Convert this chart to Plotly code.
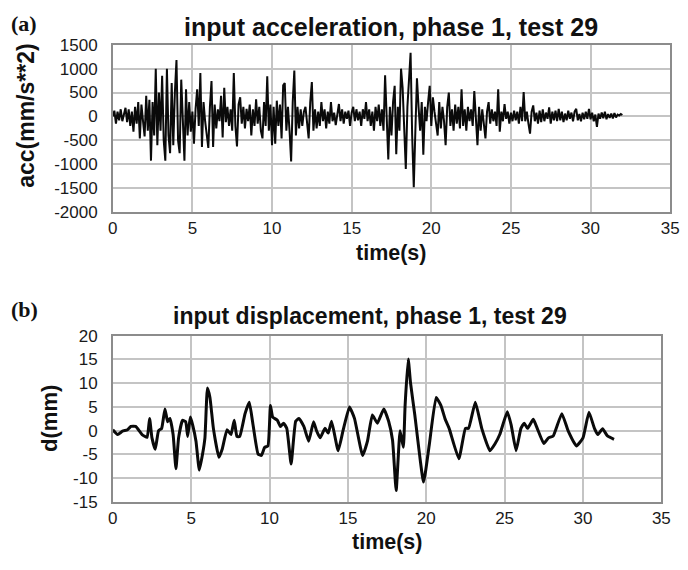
import numpy as np
import plotly.graph_objects as go

W, H = 688, 570

# ---------------- data ----------------
# (a) input acceleration (mm/s**2), sampled every 0.1 s from 0 to 32 s
acc_time = np.round(np.arange(0, 32.05, 0.1), 1)
acc_values = [
    0, 120, -150, 100, -80, 150, -100, 60, 180, -120,
    150, -200, 100, -320, 200, -150, 300, -460, 250, -100,
    -420, 430, -300, 350, -925, 300, -400, 1000, -600, 500,
    -300, 850, -500, -925, 1000, -400, -770, 700, -600, 500,
    1180, -500, -770, 770, -300, -925, 570, -400, 300, -320,
    100, -570, 160, 570, -200, 910, -640, 300, -100, -360,
    -660, 200, 740, -640, 250, -250, 150, -100, 430, -440,
    600, -120, 200, -200, 150, -300, 910, -200, -630, 250,
    400, -150, 200, -250, 160, -100, 250, -400, 150, -200,
    360, -150, 200, -300, -460, 300, -200, 840, -300, 250,
    -600, 200, -570, 330, -200, 250, -460, 650, 700, -300,
    200, -300, -940, 300, 960, -400, 200, -250, 150, -200,
    100, 200, -150, -460, 300, 720, -300, 150, -250, 100,
    -200, 300, -100, 150, -250, 100, -150, 300, -100, 80,
    -180, 100, 260, -100, 150, -150, 100, -50, 120, -200,
    80, 200, -100, 150, -80, 100, -200, 150, -50, 300,
    -100, 150, -200, 100, -300, 200, -100, 250, -200, 150,
    -300, 860, -200, -900, 200, -400, 300, 640, -790, 200,
    -300, 1000, 600, -500, -1100, 200, 900, 1330, -400, -1480,
    -300, 800, 200, -300, 300, -800, 200, -100, 300, 640,
    -200, 400, 100, -200, -400, 300, -250, 200, -100, -600,
    200, 500, -200, 150, -300, 250, -150, 200, -250, 570,
    -200, 150, -300, 200, -100, 150, -200, 530, -100, -600,
    200, -300, 150, -200, -460, 100, 300, -150, 150, -100,
    100, -200, 570, -320, 100, -100, 260, -50, 100, -150,
    80, -100, 120, -80, 100, -150, 200, -100, 510, -100,
    100, -150, -360, 100, 230, -100, 80, -150, 120, -120,
    150, -100, 80, -50, 190, -150, 100, -80, 120, -100,
    160, -80, 100, -120, 60, -80, 120, -50, 80, -100,
    100, 160, -80, 50, -100, 80, -60, 100, -50, 160,
    -60, 80, -100, 40, -220, 60, -50, 80, -40, 100,
    -60, 50, -30, 60, -40, 70, -20, 40, 20, 50,
    30,
]

# (b) input displacement (mm)
disp_time = [
    0.0, 0.31, 0.62, 0.94, 1.15, 1.46, 1.87, 2.19, 2.35, 2.5, 2.71, 2.92,
    3.12, 3.33, 3.5, 3.65, 3.85, 4.03, 4.2, 4.45, 4.65, 4.78, 4.95, 5.1,
    5.31, 5.52, 5.73, 5.88, 6.04, 6.2, 6.42, 6.77, 6.98, 7.29, 7.54, 7.75,
    7.92, 8.1, 8.44, 8.71, 8.92, 9.27, 9.48, 9.69, 9.9, 10.06, 10.2, 10.5,
    10.7, 10.9, 11.1, 11.38, 11.67, 11.88, 12.19, 12.5, 12.81, 13.0, 13.23,
    13.54, 13.75, 13.96, 14.38, 14.69, 15.1, 15.42, 15.94, 16.25, 16.56,
    16.88, 17.29, 17.6, 17.85, 18.08, 18.33, 18.54, 18.65, 18.85, 19.0,
    19.27, 19.83, 20.2, 20.63, 20.94, 21.2, 21.46, 22.08, 22.5, 22.7, 23.13,
    23.54, 24.06, 24.38, 24.69, 25.17, 25.42, 25.73, 26.04, 26.25, 26.46,
    26.83, 27.08, 27.5, 27.8, 28.1, 28.65, 29.06, 29.58, 30.0, 30.38, 30.73,
    30.94, 31.25, 31.56, 31.98,
]
disp_values = [
    0.2, -0.8, -0.1, 0.2, 0.9, 0.9, -0.8, -1.4, 2.6, -1.5, -3.9, 0.0,
    0.5, 4.6, 1.9, 2.6, -0.8, -8.0, -1.5, 2.2, 1.9, -1.2, 2.9, 1.2,
    -2.2, -8.3, -4.9, -1.5, 9.0, 7.0, 0.5, -5.6, -3.9, 0.2, -0.8, 2.2,
    -1.2, -1.2, 3.6, 6.0, 1.9, -4.9, -5.2, -3.5, -3.2, 5.3, 2.9, 2.2,
    0.9, 1.6, 0.5, -7.0, 2.0, 2.6, 0.9, -2.2, 1.9, 0.0, -1.5,
    0.5, -0.5, 2.0, -4.2, 0.0, 5.0, 2.6, -5.2, -2.2, 3.3,
    1.6, 4.6, 2.0, -2.0, -12.6, 0.0, -3.5, 5.3, 15.1, 10.0,
    3.3, -10.8, -2.8, 7.0, 5.3, 2.5, 0.5, -5.9, 0.5, 0.5, 6.0,
    0.5, -4.2, -2.8, -0.8, 4.0, 1.2, -4.2, 0.5, 1.6, 0.5,
    2.4, 0.5, -2.7, -1.5, -1.1, 3.6, -0.1, -3.2, -1.5, 3.9, 0.5,
    -0.8, 0.4, -1.1, -1.8,
]

x_ticks = [0, 5, 10, 15, 20, 25, 30, 35]
acc_ticks = [1500, 1000, 500, 0, -500, -1000, -1500, -2000]
disp_ticks = [20, 15, 10, 5, 0, -5, -10, -15]

# ---------------- figure ----------------
def px(x):
    return x / W

def py(y):
    return 1 - y / H

fig = go.Figure()
fig.add_trace(go.Scatter(x=acc_time, y=acc_values, mode="lines",
                         line=dict(color="#0a0a0a", width=2.0),
                         xaxis="x", yaxis="y", showlegend=False))
fig.add_trace(go.Scatter(x=disp_time, y=disp_values, mode="lines",
                         line=dict(color="#0a0a0a", width=3.0, shape="spline", smoothing=0.4),
                         xaxis="x2", yaxis="y2", showlegend=False))

SANS = "Arial, Liberation Sans, sans-serif"
grid = "#c4c4c4"
frame = "#8c8c8c"
tickfont = dict(family=SANS, size=17, color="#1a1a1a")

common_x = dict(range=[0, 35], tickvals=x_ticks, ticktext=[str(v) for v in x_ticks],
                showgrid=True, gridcolor=grid,
                gridwidth=1.5, showline=True, linecolor=frame, linewidth=1.5,
                mirror=True, zeroline=False, ticks="", tickfont=tickfont)
common_y = dict(showgrid=True, gridcolor=grid, gridwidth=1.5, showline=True,
                linecolor=frame, linewidth=1.5, mirror=True, zeroline=False,
                ticks="", tickfont=tickfont, ticklabelstandoff=10)

fig.update_layout(
    width=W, height=H,
    margin=dict(l=0, r=0, t=0, b=0),
    paper_bgcolor="white", plot_bgcolor="white",
    xaxis=dict(domain=[px(110), px(679)], anchor="y", **common_x),
    yaxis=dict(domain=[py(210), py(37)], anchor="x", range=[-2000, 1500],
               tickvals=acc_ticks, ticktext=[str(v) for v in acc_ticks], **common_y),
    xaxis2=dict(domain=[px(110), px(670)], anchor="y2", **common_x),
    yaxis2=dict(domain=[py(510), py(338)], anchor="x2", range=[-15, 20],
                tickvals=disp_ticks, ticktext=[str(v) for v in disp_ticks], **common_y),
)

def label(text, x, y, size, family=SANS, bold=True, angle=0, xanchor="center"):
    fig.add_annotation(text=f"<b>{text}</b>" if bold else text,
                       x=px(x), y=py(y), xref="paper", yref="paper",
                       xanchor=xanchor, yanchor="middle", showarrow=False,
                       textangle=angle,
                       font=dict(family=family, size=size, color="#111111"))

SERIF = "Times New Roman, Liberation Serif, serif"
label("(a)", 4, 15, 22, family=SERIF, xanchor="left")
label("(b)", 4, 311, 22, family=SERIF, xanchor="left")
label("input acceleration, phase 1, test 29", 394, 19, 25)
label("input displacement, phase 1, test 29", 373, 318, 23)
label("time(s)", 394, 252, 21.5)
label("time(s)", 390, 551, 21.5)
label("acc(mm/s**2)", 22, 111, 23, angle=-90)
label("d(mm)", 46, 424, 22, angle=-90)

fig.write_html("out.html")
